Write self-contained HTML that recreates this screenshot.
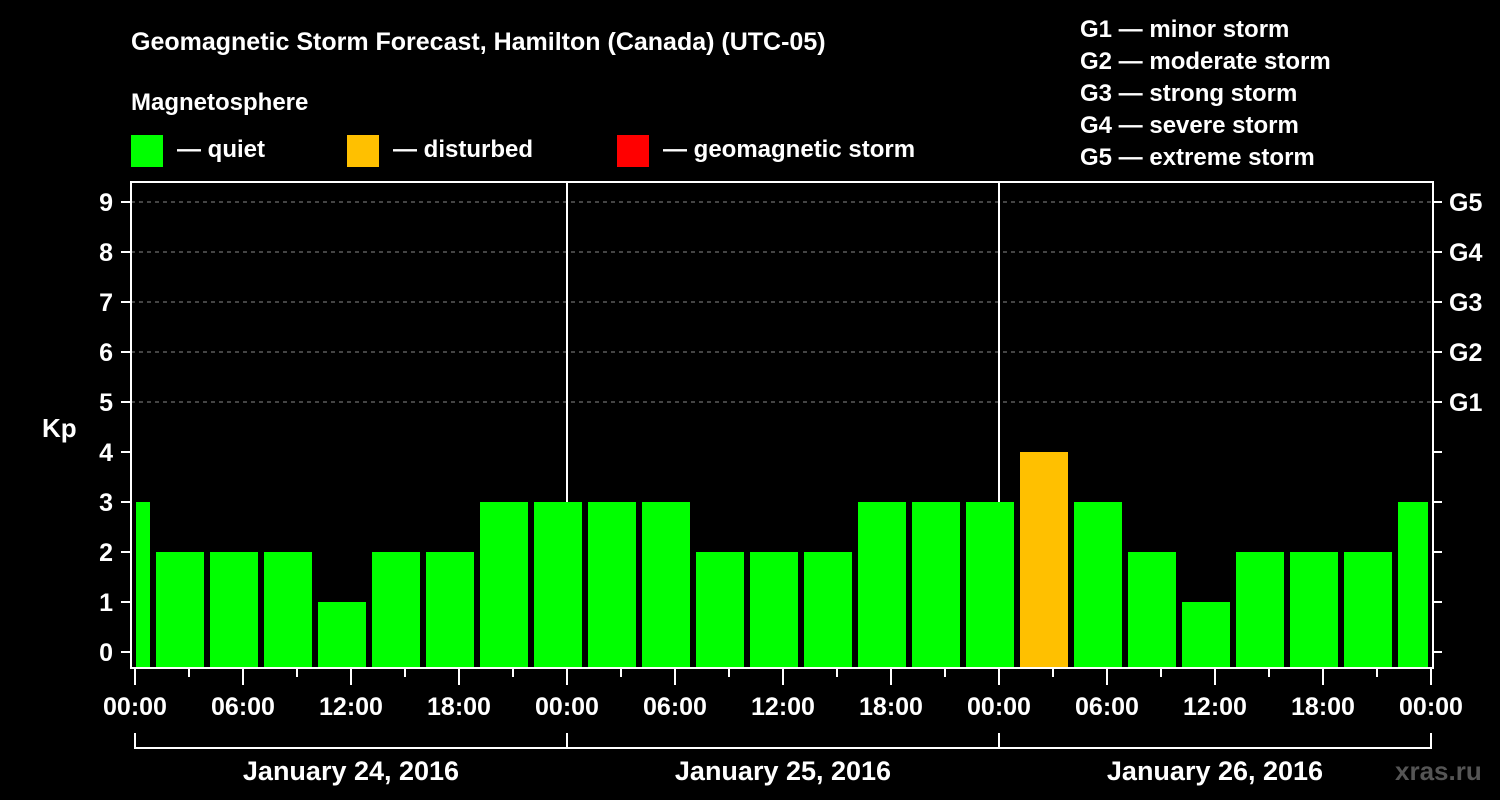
<!DOCTYPE html>
<html><head><meta charset="utf-8"><style>
html,body{margin:0;padding:0;background:#000;}
svg{display:block;font-family:"Liberation Sans",Arial,sans-serif;font-weight:bold;}
</style></head><body>
<svg id="chart" width="1500" height="800" viewBox="0 0 1500 800">
<rect width="1500" height="800" fill="#000"/>
<text x="131" y="50" fill="#fff" font-size="25">Geomagnetic Storm Forecast, Hamilton (Canada) (UTC-05)</text>
<text x="131" y="110" fill="#fff" font-size="24">Magnetosphere</text>
<g><rect x="131" y="135" width="32" height="32" fill="#00ff00"/><text x="177" y="157" fill="#fff" font-size="24">— quiet</text></g>
<g><rect x="347" y="135" width="32" height="32" fill="#ffc000"/><text x="393" y="157" fill="#fff" font-size="24">— disturbed</text></g>
<g><rect x="617" y="135" width="32" height="32" fill="#ff0000"/><text x="663" y="157" fill="#fff" font-size="24">— geomagnetic storm</text></g>
<g fill="#fff" font-size="24">
<text x="1080" y="37">G1 — minor storm</text>
<text x="1080" y="69">G2 — moderate storm</text>
<text x="1080" y="101">G3 — strong storm</text>
<text x="1080" y="133">G4 — severe storm</text>
<text x="1080" y="165">G5 — extreme storm</text>
</g>
<g id="grid"></g>
<g id="bars"></g>
<g id="axes"></g>
<text x="42" y="437" fill="#fff" font-size="26">Kp</text>
<text x="1395" y="780" fill="#555" font-size="26">xras.ru</text>
</svg>
<script>
const barStartHours = [-2,1,4,7,10,13,16,19,22,25,28,31,34,37,40,43,46,49,52,55,58,61,64,67,70];
const kpValues = [3,2,2,2,1,2,2,3,3,3,3,2,2,2,3,3,3,4,3,2,1,2,2,2,3];
const yTicks = [0,1,2,3,4,5,6,7,8,9];
const gLabels = ["G1","G2","G3","G4","G5"];
const xTickLabels = ["00:00","06:00","12:00","18:00","00:00","06:00","12:00","18:00","00:00","06:00","12:00","18:00","00:00"];
const dayLabels = ["January 24, 2016","January 25, 2016","January 26, 2016"];

const X0=135, X1=1431, HOURS=72, BOTTOM=668;
const xs = h => X0 + (X1-X0)*h/HOURS;
const ys = v => 652 - 50*v;
const NS="http://www.w3.org/2000/svg";
function mk(tag, attrs, parent, text){const e=document.createElementNS(NS,tag);for(const k in attrs)e.setAttribute(k,attrs[k]);if(text!==undefined)e.textContent=text;parent.appendChild(e);return e;}
const grid=document.getElementById('grid'), bars=document.getElementById('bars'), axes=document.getElementById('axes');

for(let v=5;v<=9;v++){
  const l=mk('line',{x1:131,x2:1431,y1:ys(v),y2:ys(v),stroke:'#888','stroke-dasharray':'4,4','stroke-width':1},grid);
  
  
}
[1,2].forEach(d=>{
  const l=mk('line',{x1:xs(24*d),x2:xs(24*d),y1:182,y2:668,stroke:'#fff','stroke-width':2},grid);
  
  
});

barStartHours.forEach((h,i)=>{
  const v=kpValues[i];
  const a=Math.max(xs(h),X0-2)+3, b=Math.min(xs(h+3),X1)-3;
  const col = v>=5?'#ff0000':(v>=4?'#ffc000':'#00ff00');
  const r=mk('rect',{x:a,y:ys(v),width:b-a,height:BOTTOM-ys(v),fill:col},bars);
  
  
});

// axes
mk('line',{x1:131,x2:131,y1:182,y2:669,stroke:'#fff','stroke-width':2},axes);
mk('line',{x1:1433,x2:1433,y1:182,y2:669,stroke:'#fff','stroke-width':2},axes);
mk('line',{x1:130,x2:1434,y1:668,y2:668,stroke:'#fff','stroke-width':2},axes);
mk('line',{x1:130,x2:1434,y1:182,y2:182,stroke:'#fff','stroke-width':2},axes);
yTicks.forEach(v=>{
  mk('line',{x1:121,x2:131,y1:ys(v),y2:ys(v),stroke:'#fff','stroke-width':2},axes);
  mk('line',{x1:1433,x2:1442,y1:ys(v),y2:ys(v),stroke:'#fff','stroke-width':2},axes);
  const t=mk('text',{x:113,y:ys(v)+9,fill:'#fff','font-size':25,'text-anchor':'end'},axes,String(v));
  
  
});
gLabels.forEach((g,i)=>{
  const t=mk('text',{x:1449,y:ys(5+i)+9,fill:'#fff','font-size':25},axes,g);
  
  
});
for(let h=0;h<=HOURS;h+=3){
  const major=h%6===0;
  mk('line',{x1:xs(h),x2:xs(h),y1:668,y2:major?685:677,stroke:'#fff','stroke-width':2},axes);
}
xTickLabels.forEach((s,i)=>{
  const t=mk('text',{x:xs(i*6),y:715,fill:'#fff','font-size':25,'text-anchor':'middle'},axes,s);
  
  
});
mk('path',{d:`M${xs(0)},733 V748 H${xs(72)} V733 M${xs(24)},733 V748 M${xs(48)},733 V748`,stroke:'#fff','stroke-width':2,fill:'none'},axes);
dayLabels.forEach((s,i)=>{
  const t=mk('text',{x:xs(24*i+12),y:780,fill:'#fff','font-size':27,'text-anchor':'middle'},axes,s);
  
  
});
</script>
</body></html>
